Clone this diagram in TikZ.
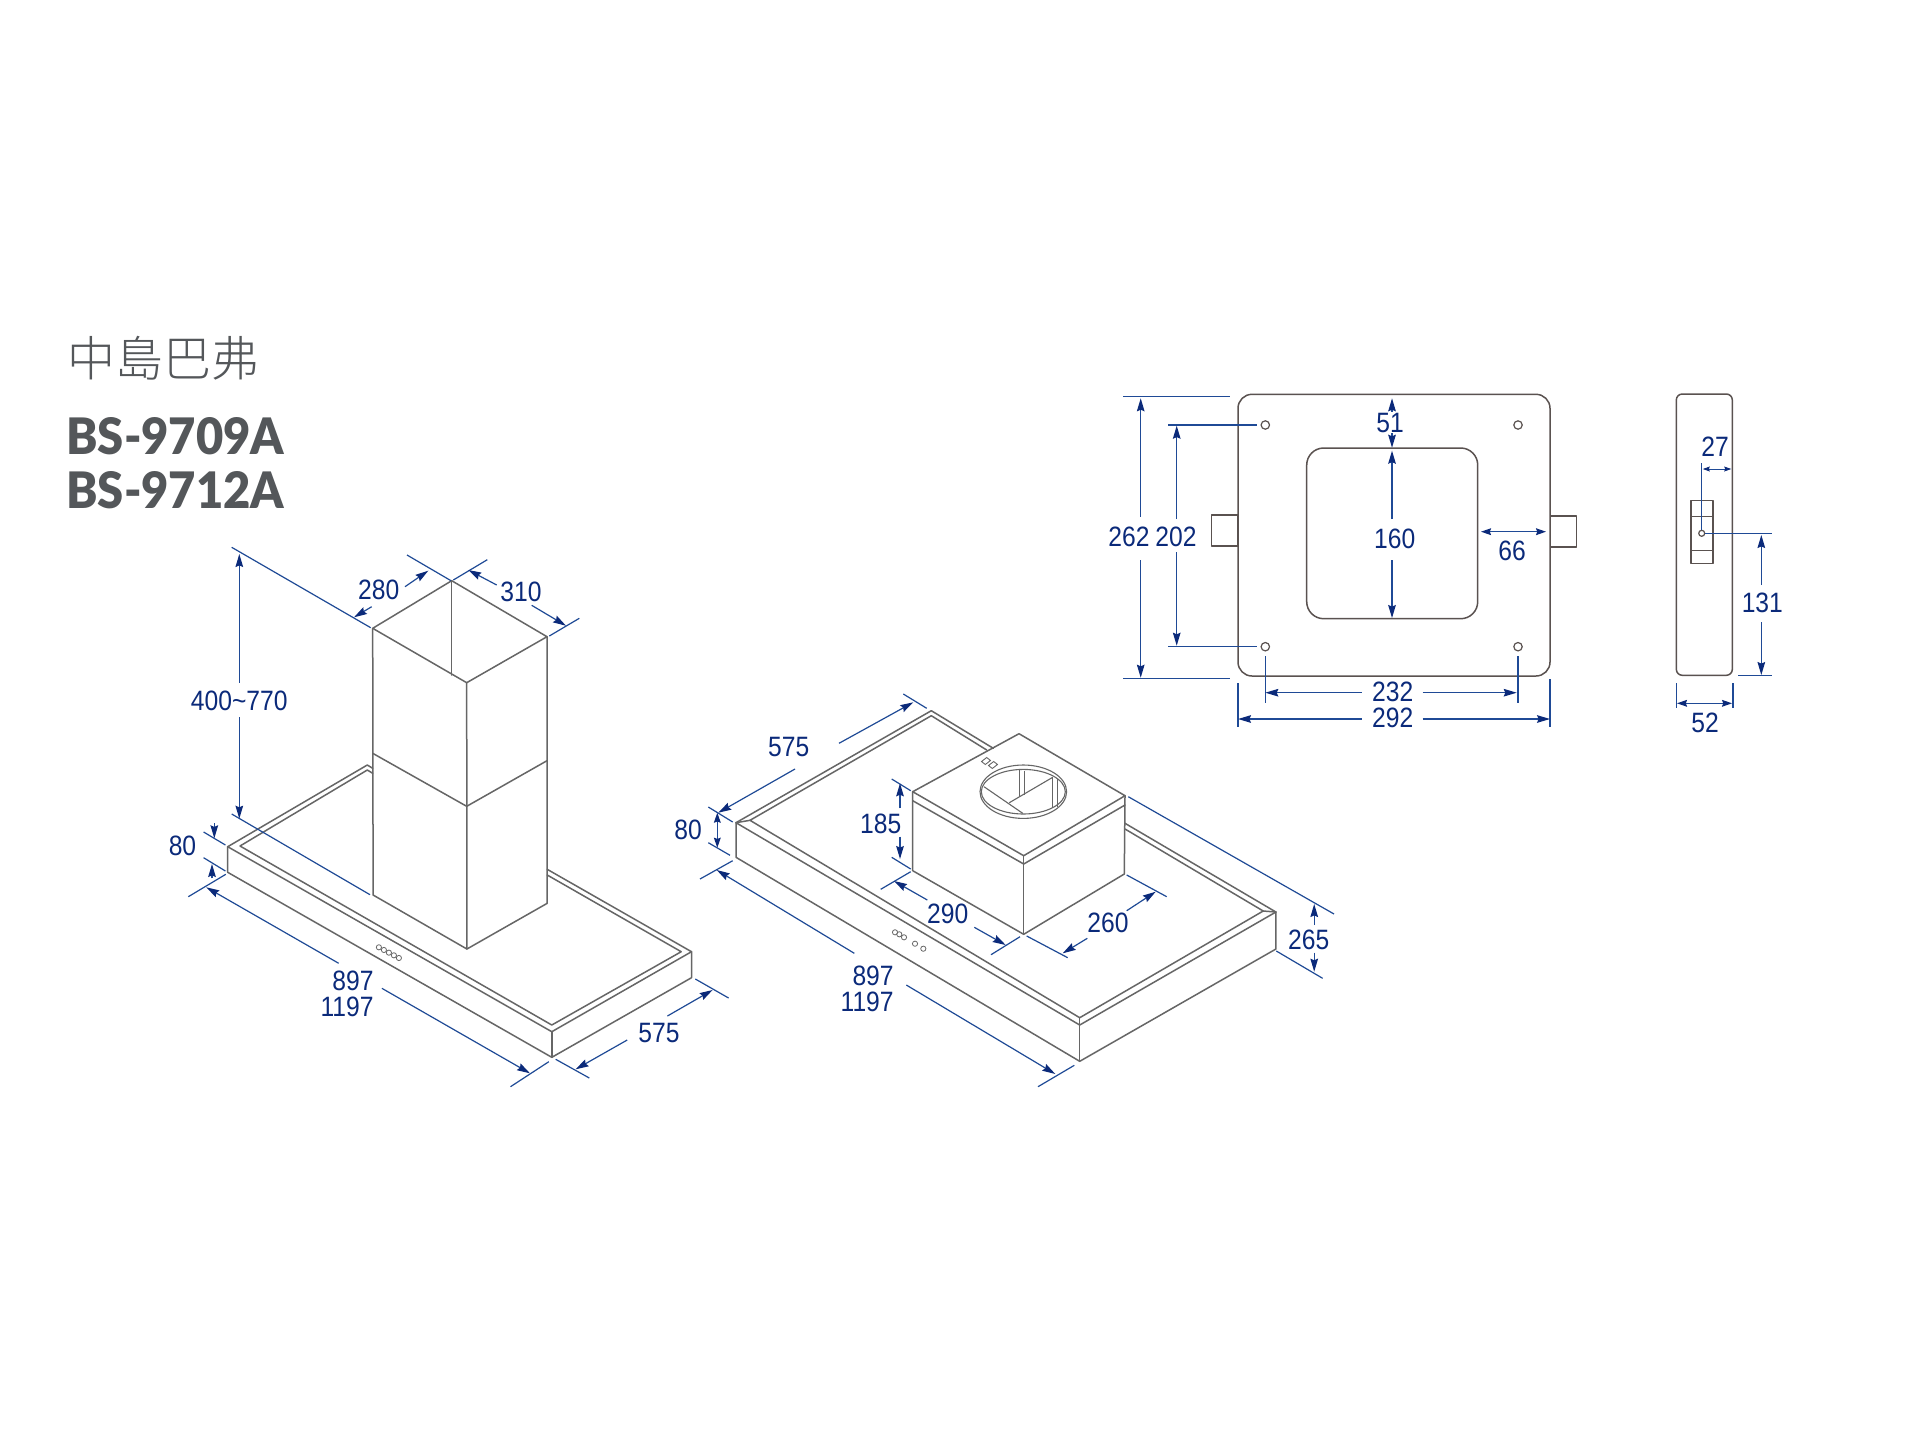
\documentclass[tikz,border=0pt]{standalone}
\usepackage{fontspec}
\usepackage{graphicx}
\setmainfont[FakeStretch=0.88]{Liberation Sans}
\newfontfamily\cjkf{Noto Sans CJK TC Light}
\newfontfamily\titlef{Lato Black}
\usetikzlibrary{arrows.meta}
\definecolor{dimtext}{HTML}{0B2A7A}
\definecolor{dimline}{HTML}{1F4A96}
\definecolor{body}{HTML}{666666}
\definecolor{plan}{HTML}{5A5250}
\definecolor{titlec}{HTML}{54575A}
\tikzset{
  x=0.5pt,y=-0.5pt,
  hoodline/.style={draw=body,line width=0.75pt,line join=round,line cap=round},
  planline/.style={draw=plan,line width=0.75pt,line join=round},
  hole/.style={draw=plan,line width=0.6pt,fill=white},
  extline/.style={draw=dimline,line width=0.6pt},
  dimarrow/.style={draw=dimline,line width=0.6pt,-{Stealth[length=6.5pt,width=3.8pt,inset=0.8pt,color=dimtext]}},
  dimboth/.style={draw=dimline,line width=0.6pt,{Stealth[length=5pt,width=3.4pt,inset=0.6pt,color=dimtext]}-{Stealth[length=5pt,width=3.4pt,inset=0.6pt,color=dimtext]}},
  dimsmall/.style={draw=dimline,line width=0.5pt,{Stealth[length=3.5pt,width=2.4pt,inset=0.4pt,color=dimtext]}-{Stealth[length=3.5pt,width=2.4pt,inset=0.4pt,color=dimtext]}},
  dimlabel/.style={text=dimtext,font=\fontsize{14}{14}\selectfont,inner sep=0pt},
  titlelabel/.style={text=titlec,inner sep=0pt,anchor=south west},
}
\begin{document}
\begin{tikzpicture}
\useasboundingbox[fill=white] (0,0) rectangle (1920,1440);

% ---- titles
\node[titlelabel,font=\cjkf\fontsize{24}{24}\selectfont,anchor=west] (ttl) at (67,358) {中島巴弗};
\node[titlelabel] (m1) at (66,455) {\resizebox{109pt}{18.5pt}{\titlef BS-9709A}};
\node[titlelabel] (m2) at (66,509) {\resizebox{109pt}{18.5pt}{\titlef BS-9712A}};

% ---- left hood: canopy
\draw[hoodline] (372.7,768.3) -- (367.3,765) -- (227.7,846.7) -- (551.8,1031.7) -- (691.5,951.7) -- (547.2,869.3);
\draw[hoodline] (372.7,773.3) -- (367.3,770) -- (240,846) -- (551.8,1025) -- (681.2,951.7) -- (547.2,875);
\draw[hoodline] (227.7,846.7) -- (227.7,872.3) -- (551.8,1057.3) -- (691.5,977.7) -- (691.5,951.7);
\draw[hoodline] (551.8,1031.7) -- (551.8,1057.3);
% left hood: buttons
\foreach \i in {0,...,4}{\draw[draw=body,line width=0.4pt] ({378.9+\i*5},{947.3+\i*2.67}) circle (2.6);}
% left hood: chimney
\draw[hoodline] (372.7,628.3) -- (451.7,580.7) -- (547,636.7) -- (466.7,682.7) -- cycle;
\draw[hoodline] (451.7,580.7) -- (451.7,675);
\draw[hoodline] (372.7,628.3) -- (373.1,895) -- (466.9,949) -- (547.2,903.3) -- (547,636.7);
\draw[hoodline] (466.7,682.7) -- (466.9,949);
\draw[hoodline] (372.7,753.3) -- (466.7,806.3) -- (547,760.7);

% ---- left hood dimensions
\draw[extline] (231.7,547.3) -- (370.7,627.7);
\draw[extline] (231.7,814) -- (370,894.7);
\draw[dimarrow] (239.3,682.7) -- (239.3,554);
\draw[dimarrow] (239.3,717.3) -- (239.3,818.7);
\node[dimlabel] (d400) at (239.3,700.7) {400\char`~770};

\draw[extline] (407,555) -- (451,580.7);
\draw[dimarrow] (405,586.7) -- (428.3,570.7);
\draw[dimarrow] (371.7,606.7) -- (354,617.3);
\node[dimlabel] (d280) at (378.7,590) {280};

\draw[extline] (487.3,559.7) -- (453.3,580);
\draw[extline] (579.3,618.3) -- (549.3,636);
\draw[dimarrow] (496.7,585) -- (468.3,570);
\draw[dimarrow] (531.7,605.3) -- (566,625.7);
\node[dimlabel] (d310) at (521,592) {310};

\draw[extline] (203.6,832) -- (225.4,845);
\draw[extline] (203.6,857.7) -- (225.4,871);
\draw[dimarrow] (214.3,823.3) -- (214.3,838.3);
\draw[dimarrow] (212,878.3) -- (212,864);
\node[dimlabel] (d80a) at (182.5,845.7) {80};

\draw[extline] (188.3,896.7) -- (225.8,874.3);
\draw[extline] (510.5,1086.7) -- (548.8,1061.7);
\draw[dimarrow] (338.7,963.3) -- (206.3,887.3);
\draw[dimarrow] (381.9,988.3) -- (530,1073.3);
\node[dimlabel,anchor=east] (d897a) at (373.9,980.7) {897};
\node[dimlabel,anchor=east] (d1197a) at (373.9,1006.7) {1197};

\draw[extline] (555.7,1059.3) -- (589.3,1078);
\draw[extline] (695.3,979) -- (728.6,998);
\draw[dimarrow] (627.2,1040) -- (575.6,1069.3);
\draw[dimarrow] (667.4,1016) -- (712.6,990);
\node[dimlabel] (d575a) at (659,1033.3) {575};

% ---- right hood: canopy
\draw[hoodline] (993.3,748.3) -- (931.3,710.7) -- (736,822.7) -- (1079.7,1025) -- (1275.9,912) -- (1125,823.3);
\draw[hoodline] (986.7,750) -- (931.3,715.7) -- (750,820.3) -- (1079.7,1017.7) -- (1263.2,911) -- (1125,829);
\draw[hoodline] (736,822.7) -- (750,820.3);
\draw[hoodline] (1263.2,911) -- (1275.9,912);
\draw[hoodline] (736,822.7) -- (736,857.3) -- (1079.7,1061.3) -- (1275.9,949) -- (1275.9,912);
\draw[hoodline] (1079.7,1017.7) -- (1079.7,1061.3);
% right hood: buttons
\foreach \p in {(895,932.3),(899.3,934.3),(904,937.3),(915,943.7),(923.3,948.7)}{\draw[draw=body,line width=0.4pt] \p circle (2.6);}
% right hood: box
\draw[hoodline] (912.7,791.7) -- (1019,733.7) -- (1125,795.7) -- (1023.7,855.7) -- cycle;
\draw[hoodline] (912.7,791.7) -- (912.7,870.7) -- (1023.7,934.3) -- (1124.3,874) -- (1125,795.7);
\draw[hoodline] (912.7,800.7) -- (1023.7,864) -- (1125,805);
\draw[hoodline] (1023.7,855.7) -- (1023.7,934.3);
% duct
\draw[draw=body,line width=0.55pt] (1023.3,791.7) ellipse [x radius=43.3,y radius=26.7];
\draw[draw=body,line width=0.55pt] (1023.3,791.7) ellipse [x radius=42,y radius=22.3];
\draw[draw=body,line width=0.55pt] (984,786.7) -- (1022.7,813.3);
\draw[draw=body,line width=0.55pt] (1009.3,802.7) -- (1052.7,777.3);
\draw[draw=body,line width=0.55pt] (1019.7,770) -- (1019.7,797.3);
\draw[draw=body,line width=0.55pt] (1024.3,770.7) -- (1024.3,794.7);
\draw[draw=body,line width=0.55pt] (1052.7,777.3) -- (1052.7,808.3);
\draw[draw=body,line width=0.55pt] (1057.7,779.3) -- (1057.7,806.7);
% icon
\draw[draw=body,line width=0.45pt] (981.5,761.5) -- (986.7,757.5) -- (990.5,760.5) -- (985.3,764.5) -- cycle;
\draw[draw=body,line width=0.45pt] (988.5,765.5) -- (993.7,761.5) -- (997.5,764.5) -- (992.3,768.5) -- cycle;

% ---- right hood dimensions
\draw[extline] (903.3,694) -- (926.7,708.3);
\draw[extline] (708.3,807) -- (732.7,822);
\draw[dimarrow] (839,743.3) -- (913.3,702.3);
\draw[dimarrow] (795,769) -- (718.3,812.7);
\node[dimlabel] (d575b) at (788.7,747.3) {575};

\draw[extline] (708.3,842.7) -- (730,855.3);
\draw[dimboth] (717.3,812.7) -- (717.3,847.7);
\node[dimlabel] (d80b) at (688,830) {80};

\draw[extline] (700,879) -- (732.7,860.7);
\draw[extline] (1038,1086.7) -- (1074.3,1065.3);
\draw[dimarrow] (854.3,953.3) -- (716.7,870);
\draw[dimarrow] (906.3,985) -- (1055.3,1074);
\node[dimlabel,anchor=east] (d897b) at (894,976) {897};
\node[dimlabel,anchor=east] (d1197b) at (894,1001.7) {1197};

\draw[extline] (891.7,779) -- (910.7,790.7);
\draw[extline] (891.7,857.3) -- (910.7,869);
\draw[dimarrow] (900,808.3) -- (900,783.3);
\draw[dimarrow] (900,836.7) -- (900,859);
\node[dimlabel] (d185) at (880.7,824) {185};

\draw[extline] (880.7,889.3) -- (910.7,871.7);
\draw[extline] (991,954.7) -- (1020,936.7);
\draw[dimarrow] (927.3,900) -- (894,881);
\draw[dimarrow] (974.3,927.3) -- (1005.7,945);
\node[dimlabel] (d290) at (947.7,914.3) {290};

\draw[extline] (1026.7,936) -- (1067.7,957.7);
\draw[extline] (1126.7,875) -- (1166.7,896.7);
\draw[dimarrow] (1087.3,938.3) -- (1062.7,953.3);
\draw[dimarrow] (1126.7,910.7) -- (1155.7,891.7);
\node[dimlabel] (d260) at (1108,922.7) {260};

\draw[extline] (1128.3,796.7) -- (1334,914);
\draw[extline] (1276.3,951) -- (1322.6,978.3);
\draw[dimarrow] (1314.2,925) -- (1314.2,904);
\draw[dimarrow] (1314.2,952.7) -- (1314.2,971.7);
\node[dimlabel] (d265) at (1308.7,940) {265};

% ---- plan view
\draw[planline] (1211.3,515) rectangle (1238,546);
\draw[planline] (1550,516) rectangle (1576.7,547);
\draw[planline,rounded corners=7pt,fill=white] (1238,394.3) rectangle (1550,676);
\draw[planline,rounded corners=8.5pt] (1306.7,448) rectangle (1477.7,618.7);
\foreach \p in {(1265.3,425),(1518,425),(1265.3,646.7),(1518,646.7)}{\draw[hole] \p circle (4.2);}

\draw[extline] (1123.3,396.3) -- (1230,396.3);
\draw[extline] (1123.3,678.3) -- (1230,678.3);
\draw[dimarrow] (1140.7,516.7) -- (1140.7,398.3);
\draw[dimarrow] (1140.7,560) -- (1140.7,677.7);
\node[dimlabel] (d262) at (1129,536.7) {262};

\draw[extline] (1168.3,425) -- (1256.7,425);
\draw[extline] (1168.3,646.7) -- (1256.7,646.7);
\draw[dimarrow] (1176.7,519) -- (1176.7,425.7);
\draw[dimarrow] (1176.7,552.3) -- (1176.7,645.7);
\node[dimlabel] (d202) at (1176,536.7) {202};

\draw[dimarrow] (1392,411.7) -- (1392,398.3);
\draw[dimarrow] (1392,433.3) -- (1392,447.7);
\node[dimlabel] (d51) at (1390,423.3) {51};

\draw[dimarrow] (1392,519) -- (1392,450.7);
\draw[dimarrow] (1392,560) -- (1392,618);
\node[dimlabel] (d160) at (1394.7,538.7) {160};

\draw[dimboth] (1481,531.7) -- (1546,531.7);
\node[dimlabel] (d66) at (1512,551) {66};

\draw[extline] (1265.3,656) -- (1265.3,702.7);
\draw[extline] (1518,656) -- (1518,702.7);
\draw[dimarrow] (1361.7,692.7) -- (1265.3,692.7);
\draw[dimarrow] (1422.7,692.7) -- (1516.7,692.7);
\node[dimlabel] (d232) at (1392.7,691.7) {232};

\draw[extline] (1238,683.3) -- (1238,726.7);
\draw[extline] (1550,679.3) -- (1550,726.7);
\draw[dimarrow] (1361.7,719) -- (1238,719);
\draw[dimarrow] (1422.7,719) -- (1550,719);
\node[dimlabel] (d292) at (1392.7,718.3) {292};

% ---- side view
\draw[planline,rounded corners=3pt] (1676.3,394) rectangle (1732.3,675.3);
\draw[planline] (1691,500.7) rectangle (1713,563.3);
\draw[planline] (1691,516.3) -- (1713,516.3);
\draw[planline] (1691,550.3) -- (1713,550.3);
\draw[hole] (1701.7,533.3) circle (3);

\draw[extline] (1701.7,463.3) -- (1701.7,530);
\draw[dimsmall] (1702.7,469) -- (1731.3,469);
\node[dimlabel] (d27) at (1715,446.7) {27};

\draw[extline] (1705,533.3) -- (1772.3,533.3);
\draw[extline] (1738.3,675.3) -- (1772.3,675.3);
\draw[dimarrow] (1761.3,585) -- (1761.3,535);
\draw[dimarrow] (1761.3,622.3) -- (1761.3,675);
\node[dimlabel] (d131) at (1762.3,603.3) {131};

\draw[extline] (1676.3,683.3) -- (1676.3,708.3);
\draw[extline] (1733,683.3) -- (1733,708.3);
\draw[dimboth] (1677,703.3) -- (1732,703.3);
\node[dimlabel] (d52) at (1705,723.3) {52};
\end{tikzpicture}
\end{document}
